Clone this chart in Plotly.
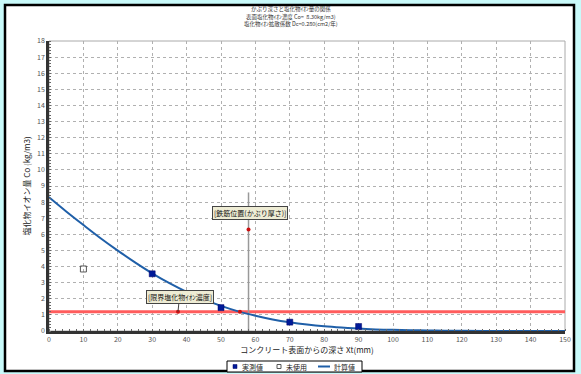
import plotly.graph_objects as go

FONT = "Noto Sans CJK JP"

# ---- data ----
calc_x = [0, 5, 10, 15, 20, 25, 30, 35, 40, 45, 50, 55, 60, 65, 70, 75, 80, 85, 90, 95, 100, 105, 110, 115, 120, 130, 140, 150]
calc_y = [8.30, 7.42, 6.58, 5.76, 4.99, 4.26, 3.58, 2.97, 2.43, 1.96, 1.56, 1.22, 0.95, 0.72, 0.54, 0.40, 0.29, 0.21, 0.15, 0.10, 0.07, 0.05, 0.03, 0.02, 0.01, 0.0, 0.0, 0.0]

meas_x = [30, 50, 70, 90]
meas_y = [3.55, 1.45, 0.55, 0.28]

unused_x = [10]
unused_y = [3.85]

limit_value = 1.2          # critical chloride concentration (kg/m3)
cover_depth = 58           # cover depth (mm)
cover_top = 8.6
cover_point_y = 6.3
limit_point_x = [37.5, 55.5]

x_ticks = list(range(0, 151, 10))
y_ticks = list(range(0, 19, 1))

title_lines = [
    "かぶり深さと塩化物ｲｵﾝ量の関係",
    "表面塩化物ｲｵﾝ濃度 Co=  8.30kg/m3)",
    "塩化物ｲｵﾝ拡散係数 Dc=0.280(cm2/年)",
]
legend_names = ["実測値", "未使用", "計算値"]

# ---- layout geometry (pixels) ----
W, H = 581, 374
L, R, T, B = 49, 16, 41, 43
PW, PH = W - L - R, H - T - B


def px(xpix):
    return (xpix - L) / PW


def py(ypix):
    return (H - B - ypix) / PH


fig = go.Figure()

fig.add_trace(go.Scatter(x=[0, 150], y=[limit_value, limit_value], mode="lines",
                         line=dict(color="#ff5c5c", width=3), showlegend=False, hoverinfo="skip"))
fig.add_trace(go.Scatter(x=[cover_depth, cover_depth], y=[0, cover_top], mode="lines",
                         line=dict(color="#999999", width=1.5), showlegend=False, hoverinfo="skip"))
fig.add_trace(go.Scatter(x=calc_x, y=calc_y, mode="lines", name=legend_names[2],
                         line=dict(color="#1f5fa8", width=2), line_shape="spline", showlegend=False))
fig.add_trace(go.Scatter(x=meas_x, y=meas_y, mode="markers", name=legend_names[0],
                         marker=dict(symbol="square", size=6, color="#001a99",
                                     line=dict(color="#000066", width=0.5)), showlegend=False))
fig.add_trace(go.Scatter(x=unused_x, y=unused_y, mode="markers", name=legend_names[1],
                         marker=dict(symbol="square-open", size=6, color="#555555",
                                     line=dict(width=1)), showlegend=False))
fig.add_trace(go.Scatter(x=limit_point_x + [cover_depth], y=[limit_value, limit_value, cover_point_y],
                         mode="markers", marker=dict(size=4, color="#cc1010"),
                         showlegend=False, hoverinfo="skip"))

shapes = [
    dict(type="rect", xref="paper", yref="paper",
         x0=px(5), x1=px(574), y0=py(371), y1=py(5),
         fillcolor="white", line=dict(color="black", width=2.5), layer="below"),
    dict(type="rect", xref="paper", yref="paper", x0=0, x1=1, y0=0, y1=1,
         line=dict(color="#aaaaaa", width=1), layer="below"),
    # legend box
    dict(type="rect", xref="paper", yref="paper", x0=px(227), x1=px(362), y0=py(372), y1=py(361),
         fillcolor="white", line=dict(color="black", width=1)),
    # legend symbols
    dict(type="rect", xref="paper", yref="paper", x0=px(233), x1=px(237), y0=py(368.5), y1=py(364.5),
         fillcolor="#001a99", line=dict(color="#000066", width=0.5)),
    dict(type="rect", xref="paper", yref="paper", x0=px(277), x1=px(281), y0=py(368.5), y1=py(364.5),
         fillcolor="white", line=dict(color="#555555", width=1)),
    dict(type="line", xref="paper", yref="paper", x0=px(318), x1=px(330), y0=py(366.5), y1=py(366.5),
         line=dict(color="#1f5fa8", width=2)),
]

annotations = []
for txt, ypix in zip(title_lines, [9, 16.5, 24]):
    annotations.append(dict(text=txt, xref="paper", yref="paper", x=px(291), y=py(ypix),
                            showarrow=False, xanchor="center", yanchor="middle",
                            font=dict(family=FONT, size=5.5, color="#333333")))

for txt, xpix in zip(legend_names, [240, 284, 332]):
    annotations.append(dict(text=txt, xref="paper", yref="paper", x=px(xpix), y=py(366.5),
                            showarrow=False, xanchor="left", yanchor="middle",
                            font=dict(family=FONT, size=7, color="#222222")))

label_style = dict(bgcolor="#eeecd4", bordercolor="#444444", borderwidth=1, borderpad=1,
                   font=dict(family=FONT, size=7, color="#111111"))
annotations.append(dict(text="[鉄筋位置(かぶり厚さ)]", x=58.4, y=7.3, xref="x", yref="y",
                        showarrow=False, **label_style))
annotations.append(dict(text="[限界塩化物ｲｵﾝ濃度]", x=37.5, y=limit_value, xref="x", yref="y",
                        showarrow=True, arrowhead=0, arrowwidth=1, arrowcolor="#444444",
                        ax=1.5, ay=-15, **label_style))

fig.update_layout(
    width=W, height=H,
    margin=dict(l=L, r=R, t=T, b=B, autoexpand=False),
    paper_bgcolor="#c9fafa",
    plot_bgcolor="rgba(0,0,0,0)",
    font=dict(family=FONT, size=7, color="#444444"),
    shapes=shapes,
    annotations=annotations,
    showlegend=False,
)

fig.update_xaxes(range=[0, 150], tickvals=x_ticks, ticktext=[str(v) for v in x_ticks],
                 showgrid=True, gridcolor="#b0b0b0", griddash="dot", gridwidth=1,
                 showline=True, linecolor="#333333", linewidth=2.5,
                 ticks="", zeroline=False,
                 minor=dict(ticks="inside", ticklen=2, tickcolor="#666666", dtick=2, showgrid=False),
                 tickfont=dict(family=FONT, size=7, color="#555555"),
                 title=dict(text="コンクリート表面からの深さ Xt(mm)", standoff=0,
                            font=dict(family=FONT, size=8, color="#222222")))
fig.update_yaxes(range=[0, 18], tickvals=y_ticks, ticktext=[str(v) for v in y_ticks],
                 showgrid=True, gridcolor="#b0b0b0", griddash="dot", gridwidth=1,
                 showline=True, linecolor="#333333", linewidth=2.5,
                 ticks="", zeroline=False,
                 minor=dict(ticks="inside", ticklen=2, tickcolor="#666666", dtick=0.2, showgrid=False),
                 tickfont=dict(family=FONT, size=7, color="#555555"),
                 title=dict(text="塩化物イオン量 Co (kg/m3)", standoff=6,
                            font=dict(family=FONT, size=8, color="#222222")))

fig.write_html("out.html", config={"displayModeBar": False},
               post_script="document.body.style.margin='0';document.body.style.overflow='hidden';")
